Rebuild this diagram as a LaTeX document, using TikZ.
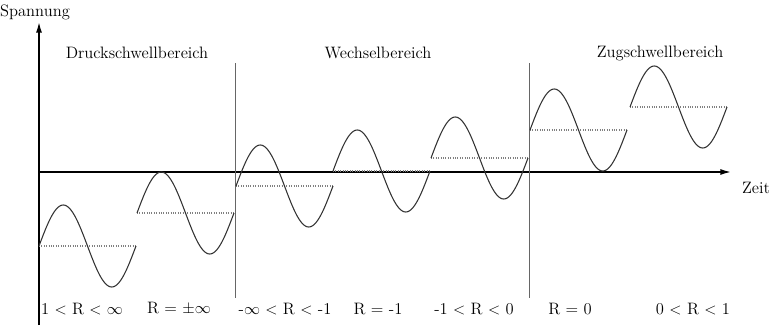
\documentclass[tikz,border=0pt]{standalone}
\usepackage{amsmath,amssymb}
\usetikzlibrary{arrows.meta,positioning}

\begin{document}
\begin{tikzpicture}[
    x=0.75pt, y=-0.75pt,
    lbl/.style={font=\fontsize{12.4}{14}\selectfont, inner sep=1pt},
    achse/.style={line width=1.1pt, -{Latex[length=8pt,width=4.5pt]}},
    trenn/.style={gray!80!black, line width=0.7pt},
    welle/.style={black!80, line width=0.8pt},
    mittel/.style={gray, line width=0.8pt, densely dotted},
    >=Stealth
]
    \useasboundingbox (0,0) rectangle (770,325);

    % Axes
    \coordinate (o) at (39,325);
    \coordinate (ytip) at (39,22);
    \coordinate (xs) at (39,172);
    \coordinate (xtip) at (731,172);
    \draw[achse] (o) -- (ytip);
    \draw[achse] (xs) -- (xtip);
    \node[lbl] (spannung) at (35,12) {Spannung};
    \node[lbl] (zeit) at (756,188) {Zeit};

    % Region separators
    \coordinate (t1a) at (235,63);
    \coordinate (t1b) at (235,298);
    \coordinate (t2a) at (529,63);
    \coordinate (t2b) at (529,298);
    \draw[trenn] (t1a) -- (t1b);
    \draw[trenn] (t2a) -- (t2b);

    % Region titles
    \node[lbl] (druck) at (137,53) {Druckschwellbereich};
    \node[lbl] (wechsel) at (378,53) {Wechselbereich};
    \node[lbl] (zug) at (660,53) {Zugschwellbereich};

    % Waves with mean lines
    \foreach \xa/\m in {39/246, 137/213, 236/186, 333/171, 431/158, 530/130, 630/107} {
        \draw[mittel] (\xa,\m) -- ++(97,0);
        \draw[welle] plot[domain=0:360, samples=73, smooth] ({\xa+\x/360*97}, {\m-41*sin(\x)});
    }

    % Stress ratios
    \node[lbl] (r1) at (82,309) {1 $<$ R $<$ $\infty$};
    \node[lbl] (r2) at (179,309) {R = $\pm\infty$};
    \node[lbl] (r3) at (285,309) {-$\infty$ $<$ R $<$ -1};
    \node[lbl] (r4) at (378,309) {R = -1};
    \node[lbl] (r5) at (474,309) {-1 $<$ R $<$ 0};
    \node[lbl] (r6) at (570,309) {R = 0};
    \node[lbl] (r7) at (693,309) {0 $<$ R $<$ 1};
\end{tikzpicture}
\end{document}
